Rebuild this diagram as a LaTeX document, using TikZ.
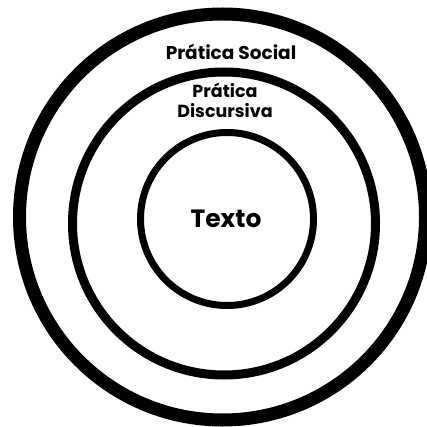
\documentclass[tikz,border=0pt]{standalone}
\usepackage{fontspec}
\setmainfont{Poppins}
\begin{document}
\begin{tikzpicture}[x=1pt,y=1pt,
  ring/.style={circle, draw=black, inner sep=0pt, outer sep=0pt},
  lbl/.style={font=\bfseries, inner sep=0pt, anchor=base}]
\useasboundingbox (0,0) rectangle (426,-427);
\fill[white] (0,0) rectangle (426,-427);
\node[ring, line width=13pt, minimum size=406pt] (outer) at (222.5,-217) {};
\node[ring, line width=9pt, minimum size=303pt] (middle) at (224,-223.5) {};
\node[ring, line width=7pt, minimum size=173pt] (inner) at (227,-219) {};
\node[lbl, font=\bfseries\fontsize{18.5}{20}\selectfont] (social) at (231,-60) {Prática Social};
\node[lbl, font=\bfseries\fontsize{17.5}{20}\selectfont] (prat) at (225,-98) {Prática};
\node[lbl, font=\bfseries\fontsize{17.5}{20}\selectfont] (disc) at (225,-118) {Discursiva};
\node[lbl, font=\bfseries\fontsize{25}{28}\selectfont] (texto) at (226,-227) {Texto};
\end{tikzpicture}
\end{document}
